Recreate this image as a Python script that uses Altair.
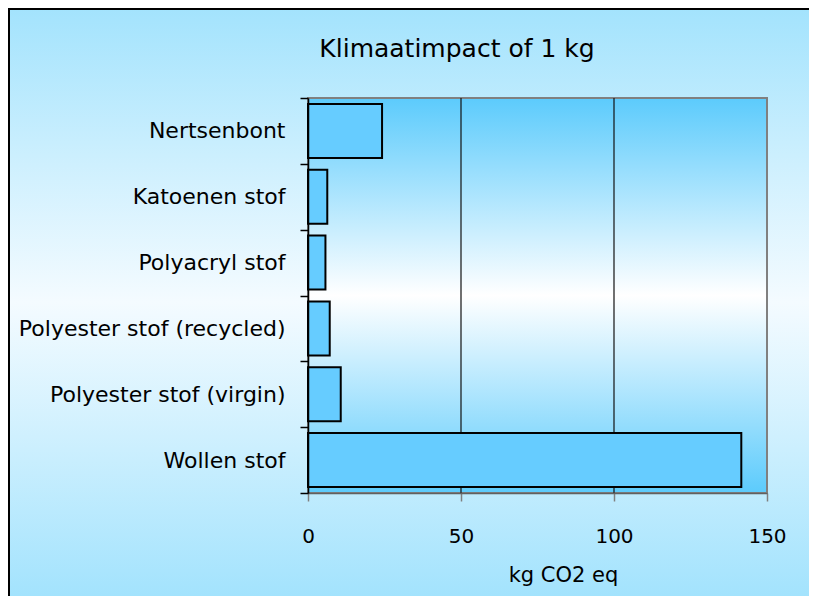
import altair as alt
import pandas as pd

categories = ["Nertsenbont", "Katoenen stof", "Polyacryl stof",
              "Polyester stof (recycled)", "Polyester stof (virgin)", "Wollen stof"]
values = [24.2, 6.3, 5.7, 7.1, 10.7, 141.6]
x_ticks = [0, 50, 100, 150]
grid_vals = [50, 100]
title_text = "Klimaatimpact of 1 kg"

df = pd.DataFrame({"cat": categories, "val": values})
grid_df = pd.DataFrame({"v": grid_vals})
one = pd.DataFrame({"k": [0]})
title_df = pd.DataFrame({"t": [title_text]})

W, H = 459, 395
PADL, PADT, PADR, PADB = 300, 90, 42, 103

FONT = "DejaVu Sans"

x_axis = alt.Axis(
    values=x_ticks, grid=False, orient="bottom", labelFlush=False,
    tickColor="#808080", tickSize=8, tickWidth=1.5,
    domainColor="#606060", domainWidth=1.5,
    labelFont=FONT, labelFontSize=20, labelColor="black", labelPadding=25,
    title="kg CO2 eq", titleFont=FONT, titleFontSize=21, titleFontWeight="normal",
    titleColor="black", titleX=255, titleY=88, titleBaseline="alphabetic",
    titleAlign="center", zindex=1,
)
x_scale = alt.Scale(domain=[0, 150], nice=False, zero=True)

outer_grad = alt.LinearGradient(
    gradient="linear", x1=0, x2=0, y1=0, y2=1,
    stops=[alt.GradientStop(color="#a3e3fd", offset=0),
           alt.GradientStop(color="#f4fbff", offset=0.5),
           alt.GradientStop(color="#a3e3fd", offset=1)],
)
plot_grad = alt.LinearGradient(
    gradient="linear", x1=0, x2=0, y1=0, y2=1,
    stops=[alt.GradientStop(color="#5ccbfc", offset=0),
           alt.GradientStop(color="#ffffff", offset=0.5),
           alt.GradientStop(color="#5ccbfc", offset=1)],
)

bg = alt.Chart(one).mark_rect(color=outer_grad, strokeWidth=0).encode(
    x=alt.value(-PADL), x2=alt.value(W + PADR),
    y=alt.value(-PADT), y2=alt.value(H + PADB),
)
frame_top = alt.Chart(one).mark_rect(color="black", strokeWidth=0).encode(
    x=alt.value(-PADL), x2=alt.value(W + PADR),
    y=alt.value(-PADT), y2=alt.value(-PADT + 2),
)
frame_left = alt.Chart(one).mark_rect(color="black", strokeWidth=0).encode(
    x=alt.value(-PADL), x2=alt.value(-PADL + 2),
    y=alt.value(-PADT), y2=alt.value(H + PADB),
)
plot_bg = alt.Chart(one).mark_rect(color=plot_grad, stroke="#808080", strokeWidth=2).encode(
    x=alt.value(0), x2=alt.value(W),
    y=alt.value(0), y2=alt.value(H),
)
grid = alt.Chart(grid_df).mark_rule(color="#111111", strokeWidth=1.2).encode(
    x=alt.X("v:Q", scale=x_scale, axis=x_axis),
)
bars = alt.Chart(df).mark_bar(
    color="#66ccff", stroke="black", strokeWidth=2,
    height=alt.RelativeBandSize(band=0.82),
).encode(
    y=alt.Y("cat:N", sort=None, title=None,
            scale=alt.Scale(paddingInner=0, paddingOuter=0),
            axis=alt.Axis(tickBand="extent", tickColor="black", tickSize=8, tickWidth=1.5,
                          domainColor="black", domainWidth=1.5,
                          labelFont=FONT, labelFontSize=22, labelColor="black",
                          labelPadding=15, labelLimit=400, zindex=1)),
    x=alt.X("val:Q", scale=x_scale, axis=x_axis),
)
title = alt.Chart(title_df).mark_text(
    font=FONT, fontSize=25, color="black", align="center", baseline="alphabetic",
).encode(
    text="t:N", x=alt.value(149), y=alt.value(-41),
)

chart = alt.layer(bg, frame_top, frame_left, plot_bg, grid, bars, title).properties(
    width=W, height=H,
    autosize=alt.AutoSizeParams(type="none"),
    padding={"left": PADL, "top": PADT, "right": PADR, "bottom": PADB},
).configure_view(stroke=None)

chart.save("out.html", embed_options={"renderer": "svg", "actions": False})
